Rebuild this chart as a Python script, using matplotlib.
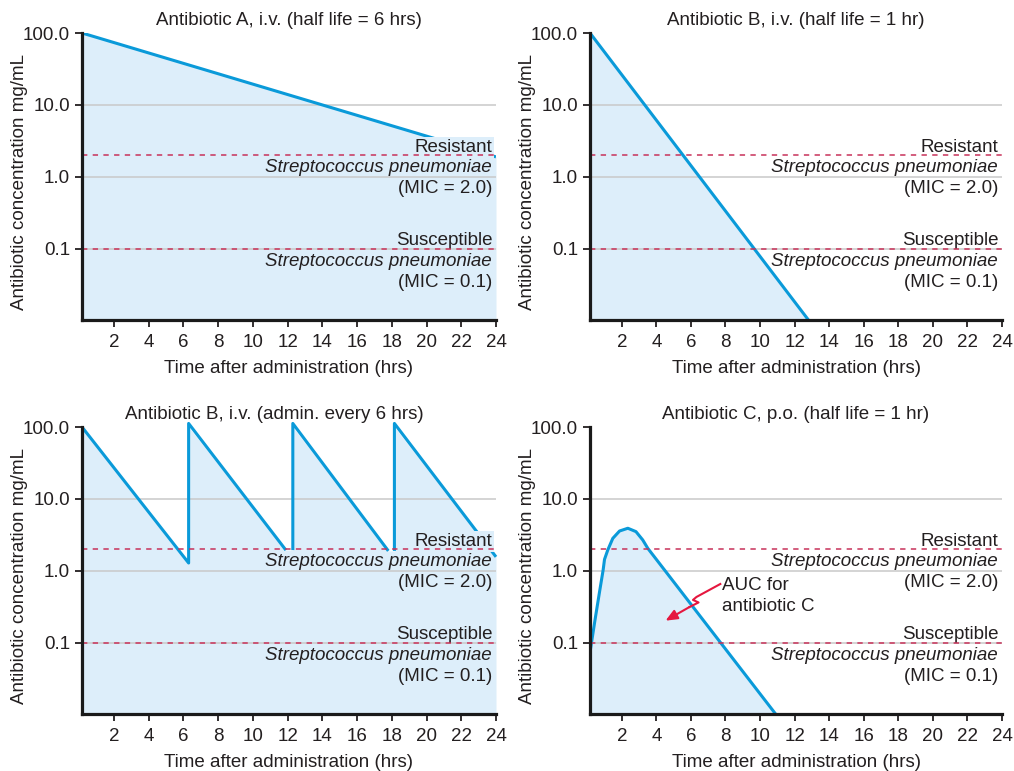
import matplotlib
matplotlib.use("Agg")
import matplotlib.pyplot as plt
import numpy as np

plt.rcParams['font.family'] = ['Liberation Sans', 'DejaVu Sans']

# ---------------- data ----------------
titles = ["Antibiotic A, i.v. (half life = 6 hrs)",
          "Antibiotic B, i.v. (half life = 1 hr)",
          "Antibiotic B, i.v. (admin. every 6 hrs)",
          "Antibiotic C, p.o. (half life = 1 hr)"]

# Panel A: antibiotic A i.v.
a_time = [0.16, 24.0]
a_conc = [100.0, 1.9]

# Panel B: antibiotic B i.v. single dose
b_time = [0.16, 12.8]
b_conc = [100.0, 0.0103]

# Panel C: antibiotic B repeated dosing (segments)
c_segments_time = [[0.16, 6.3, 6.3, 11.9],
                   [12.3, 12.3, 17.8],
                   [18.15, 18.15, 24.0]]
c_segments_conc = [[100.0, 1.29, 112.0, 1.95],
                   [1.95, 112.0, 1.9],
                   [1.9, 112.0, 1.57]]

# Panel D: antibiotic C p.o.
d_time = [0.16, 0.45, 0.73, 0.92, 1.0, 1.19, 1.48, 1.87, 2.35, 2.82, 3.21, 3.5, 10.9]
d_conc = [0.074, 0.209, 0.545, 1.03, 1.45, 1.96, 2.84, 3.59, 3.92, 3.52, 2.70, 2.07, 0.0103]

mic_values = [2.0, 0.1]
mic_headers = ["Resistant", "Susceptible"]
mic_species = "Streptococcus pneumoniae"
mic_labels = ["(MIC = 2.0)", "(MIC = 0.1)"]

y_ticks = [0.1, 1.0, 10.0, 100.0]
y_ticklabels = ["0.1", "1.0", "10.0", "100.0"]
x_ticks = list(range(2, 25, 2))

xlabel = "Time after administration (hrs)"
ylabel = "Antibiotic concentration mg/mL"

# ---------------- style ----------------
LINE = "#0a9ad9"
FILL = "#ddeefa"
MICC = "#c8325a"
GRID = "#c9c9c9"
TXT = "#231f20"
ARROW = "#e5173f"
FS = 13.5
YMIN, YMAX = 0.0103, 100.0
XMIN, XMAX = 0.16, 24.0

fig = plt.figure(figsize=(10.14, 7.71), dpi=100)
W, H = 1014, 771
def pos(l, t, r, b):
    return [l / W, 1 - b / H, (r - l) / W, (b - t) / H]

axA = fig.add_axes(pos(82, 33, 496, 320))
axB = fig.add_axes(pos(590, 33, 1002, 320))
axC = fig.add_axes(pos(82, 427, 496, 714))
axD = fig.add_axes(pos(590, 427, 1002, 714))

def style(ax, title, title_x=0.5, mask=False):
    ax.set_yscale('log')
    ax.set_xlim(XMIN, XMAX)
    ax.set_ylim(YMIN, YMAX)
    ax.set_yticks(y_ticks)
    ax.set_yticklabels(y_ticklabels)
    ax.yaxis.set_minor_locator(matplotlib.ticker.NullLocator())
    ax.set_xticks(x_ticks)
    ax.tick_params(axis='both', labelsize=FS, colors=TXT, length=5, width=1.3)
    ax.tick_params(axis='x', pad=4.8)
    ax.tick_params(axis='y', pad=3.5)
    for s in ['top', 'right']:
        ax.spines[s].set_visible(False)
    for s in ['left', 'bottom']:
        ax.spines[s].set_linewidth(2.3)
        ax.spines[s].set_color('#1a1a1a')
        ax.spines[s].set_zorder(10)
    ax.set_xlabel(xlabel, fontsize=FS, color=TXT, labelpad=6.5)
    ax.set_ylabel(ylabel, fontsize=FS, color=TXT)
    ax.yaxis.set_label_coords(-0.130, 0.48)
    for yv in [0.1, 1.0, 10.0]:
        ax.axhline(yv, color=GRID, lw=1.1, zorder=1)
    ax.annotate(title, xy=(title_x, 1.0), xycoords='axes fraction', xytext=(0, 5.8),
                textcoords='offset points', ha='center', va='baseline',
                fontsize=FS, color=TXT, annotation_clip=False)
    trans = ax.get_yaxis_transform()
    for mv, hdr, lab in zip(mic_values, mic_headers, mic_labels):
        ax.axhline(mv, color=MICC, lw=1.1, ls=(0, (3.5, 3.5)), zorder=6)
        box = dict(boxstyle='square,pad=0.1', fc=FILL, ec='none') if (mask and mv > 1) else None
        ax.annotate(hdr, xy=(1, mv), xycoords=trans, xytext=(-2.8, 2.5),
                    textcoords='offset points', ha='right', va='baseline',
                    fontsize=FS, color=TXT, zorder=5, bbox=box)
        ax.annotate(mic_species, xy=(1, mv), xycoords=trans, xytext=(-2.8, -12.3),
                    textcoords='offset points', ha='right', va='baseline',
                    fontsize=FS, color=TXT, style='italic', zorder=5)
        ax.annotate(lab, xy=(1, mv), xycoords=trans, xytext=(-2.8, -27.4),
                    textcoords='offset points', ha='right', va='baseline',
                    fontsize=FS, color=TXT, zorder=5)

# Panel A
style(axA, titles[0], mask=True)
axA.fill_between(a_time, a_conc, YMIN, color=FILL, lw=0, zorder=0)
axA.plot(a_time, a_conc, color=LINE, lw=2.2, zorder=3, solid_capstyle='butt')

# Panel B
style(axB, titles[1])
axB.fill_between(b_time, b_conc, YMIN, color=FILL, lw=0, zorder=0)
axB.plot(b_time, b_conc, color=LINE, lw=2.2, zorder=3, solid_capstyle='butt')

# Panel C
style(axC, titles[2], title_x=0.464, mask=True)
all_t = [t for seg in c_segments_time for t in seg]
all_c = [c for seg in c_segments_conc for c in seg]
axC.fill_between(all_t, np.minimum(all_c, YMAX), YMIN, color=FILL, lw=0, zorder=0)
for st, sc in zip(c_segments_time, c_segments_conc):
    axC.plot(st, sc, color=LINE, lw=2.2, zorder=3, clip_on=False, solid_capstyle='butt')

# Panel D
style(axD, titles[3])
axD.fill_between(d_time, d_conc, YMIN, color=FILL, lw=0, zorder=0)
axD.plot(d_time, d_conc, color=LINE, lw=2.2, zorder=3, solid_capstyle='butt',
         solid_joinstyle='round')
axD.text(7.82, 0.544, "AUC for", fontsize=FS, color=TXT, ha='left', va='baseline', zorder=5)
axD.text(7.82, 0.278, "antibiotic C", fontsize=FS, color=TXT, ha='left', va='baseline', zorder=5)
sq_t = [7.70, 6.32, 6.12, 6.44, 5.92]
sq_c = [0.659, 0.435, 0.396, 0.365, 0.316]
axD.plot(sq_t, sq_c, color=ARROW, lw=1.5, zorder=7)
axD.annotate('', xy=(4.53, 0.204), xytext=(5.92, 0.316),
             arrowprops=dict(arrowstyle='-|>,head_length=0.7,head_width=0.3', color=ARROW, lw=1.5,
                             shrinkA=0, shrinkB=0), zorder=7)

fig.savefig("out.png", dpi=100)
